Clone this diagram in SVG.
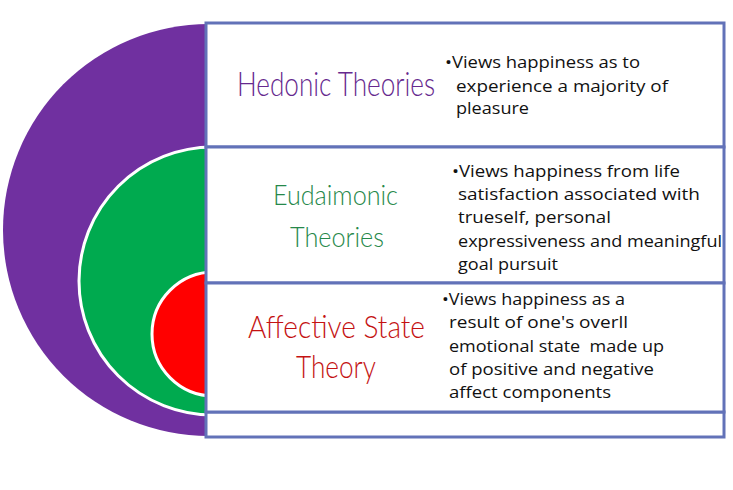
<svg xmlns="http://www.w3.org/2000/svg" width="733" height="490" viewBox="0 0 733 490">
<style>
.box{fill:#ffffff;stroke:#6272B8;stroke-width:3}
.body{font-family:"Open Sans","Liberation Sans",sans-serif;font-size:16px;fill:#111111}
.title{font-family:Lato,"Liberation Sans",sans-serif;font-weight:300}
</style>
<rect width="733" height="490" fill="#ffffff"/>
<g id="rings">
<circle cx="209" cy="230" r="206" fill="#7030A0"/>
<circle cx="213" cy="281" r="134" fill="#00AA4F" stroke="#ffffff" stroke-width="3"/>
<circle cx="214" cy="334" r="62" fill="#FF0000" stroke="#ffffff" stroke-width="3"/>
</g>
<g id="frame">
<rect class="box" x="206" y="412" width="518" height="25"/>
</g>
<g id="hedonic">
<rect class="box" x="206" y="23" width="518" height="124"/>
<text class="title" transform="translate(237,96) scale(1,1.3)" x="0" y="0" font-size="26" fill="#66298E" textLength="198" lengthAdjust="spacingAndGlyphs">Hedonic Theories</text>
<text class="body" x="445" y="68" textLength="195" lengthAdjust="spacingAndGlyphs">•Views happiness as to</text>
<text class="body" x="456" y="92" textLength="212" lengthAdjust="spacingAndGlyphs">experience a majority of</text>
<text class="body" x="456" y="114" textLength="73" lengthAdjust="spacingAndGlyphs">pleasure</text>
</g>
<g id="eudaimonic">
<rect class="box" x="206" y="147" width="518" height="136"/>
<text class="title" x="273" y="205" font-size="27" fill="#26884A" textLength="125" lengthAdjust="spacingAndGlyphs">Eudaimonic</text>
<text class="title" x="290" y="247" font-size="27" fill="#26884A" textLength="94" lengthAdjust="spacingAndGlyphs">Theories</text>
<text class="body" x="452" y="177" textLength="228" lengthAdjust="spacingAndGlyphs">•Views happiness from life</text>
<text class="body" x="458" y="200" textLength="242" lengthAdjust="spacingAndGlyphs">satisfaction associated with</text>
<text class="body" x="458" y="223" textLength="153" lengthAdjust="spacingAndGlyphs">trueself, personal</text>
<text class="body" x="458" y="247" textLength="264" lengthAdjust="spacingAndGlyphs">expressiveness and meaningful</text>
<text class="body" x="458" y="270" textLength="100" lengthAdjust="spacingAndGlyphs">goal pursuit</text>
</g>
<g id="affective">
<rect class="box" x="206" y="283" width="518" height="129"/>
<text class="title" transform="translate(248,338) scale(1,1.15)" x="0" y="0" font-size="27" fill="#C41212" textLength="177" lengthAdjust="spacingAndGlyphs">Affective State</text>
<text class="title" transform="translate(296,378) scale(1,1.15)" x="0" y="0" font-size="27" fill="#C41212" textLength="80" lengthAdjust="spacingAndGlyphs">Theory</text>
<text class="body" x="442" y="305" textLength="183" lengthAdjust="spacingAndGlyphs">•Views happiness as a</text>
<text class="body" x="449" y="328" textLength="179" lengthAdjust="spacingAndGlyphs">result of one's overll</text>
<text class="body" x="449" y="352" textLength="215" lengthAdjust="spacingAndGlyphs">emotional state&#160; made up</text>
<text class="body" x="449" y="375" textLength="205" lengthAdjust="spacingAndGlyphs">of positive and negative</text>
<text class="body" x="449" y="398" textLength="162" lengthAdjust="spacingAndGlyphs">affect components</text>
</g>
<g id="connectors"></g>
</svg>
